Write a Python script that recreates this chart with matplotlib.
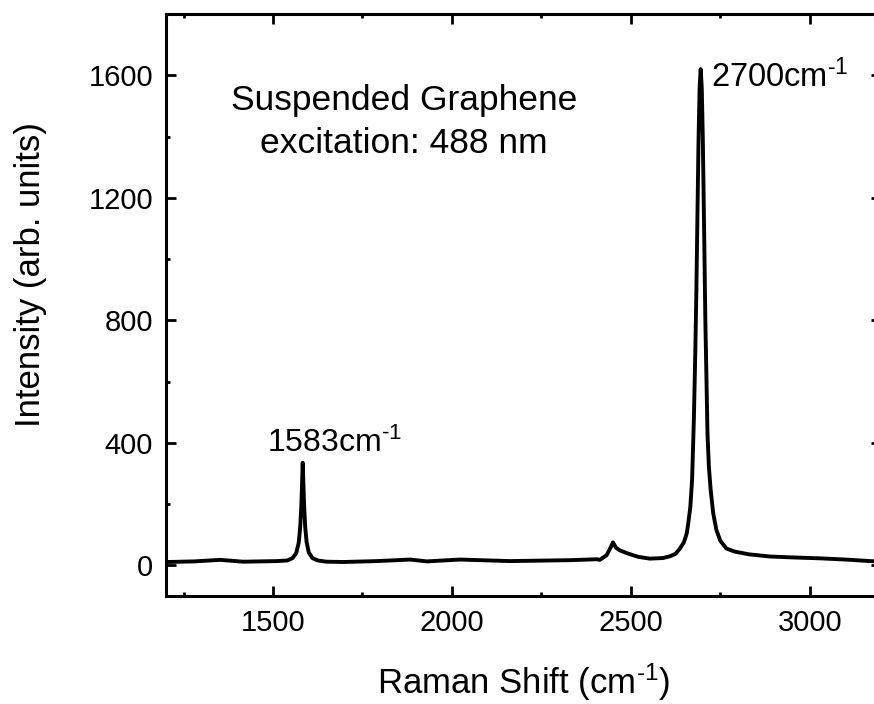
import matplotlib
matplotlib.use("Agg")
import matplotlib.pyplot as plt
from matplotlib.ticker import MultipleLocator

plt.rcParams['font.family'] = ['Liberation Sans', 'DejaVu Sans']
plt.rcParams['mathtext.fontset'] = 'custom'
plt.rcParams['mathtext.rm'] = 'Liberation Sans'
plt.rcParams['mathtext.it'] = 'Liberation Sans'

# spectrum (Raman shift in cm^-1, intensity in arb. units)
shift = [1200, 1204, 1280, 1352, 1417, 1511, 1540, 1555, 1565, 1572, 1576, 1579,
         1581, 1583, 1585, 1587, 1590, 1594, 1600, 1610, 1625, 1650, 1695, 1790,
         1883, 1930, 2022, 2162, 2330, 2405, 2413, 2432, 2442, 2450, 2458, 2469,
         2491, 2520, 2553, 2590, 2610, 2625, 2637, 2648, 2656, 2660, 2666, 2671,
         2676, 2680, 2683, 2686, 2689, 2692, 2695, 2698, 2701, 2705, 2708, 2710,
         2714, 2718, 2723, 2730, 2739, 2750, 2767, 2790, 2830, 2888, 2950, 3028,
         3100, 3168, 3200]
intensity = [11, 11, 13, 18, 12, 14, 16, 24, 40, 75, 125, 190,
             260, 335, 265, 195, 125, 75, 42, 24, 16, 12, 11, 14,
             19, 13, 19, 14, 17, 20, 18, 33, 55, 75, 58, 49,
             39, 28, 22, 24, 30, 38, 55, 75, 104, 135, 190, 280,
             480, 700, 900, 1150, 1390, 1560, 1620, 1560, 1390, 1061, 800, 680,
             430, 320, 245, 170, 115, 80, 55, 45, 36, 29, 26, 23,
             19, 14, 13]

x_ticks = [1500, 2000, 2500, 3000]
y_ticks = [0, 400, 800, 1200, 1600]

fig = plt.figure(figsize=(8.74, 7.04), dpi=100)
ax = fig.add_axes([0.1895, 0.1534, 0.819, 0.8267])

ax.plot(shift, intensity, color='black', lw=2.8, solid_joinstyle='round')

ax.set_xlim(1200, 3200)
ax.set_ylim(-100, 1800)
ax.set_xticks(x_ticks)
ax.set_yticks(y_ticks)
ax.xaxis.set_minor_locator(MultipleLocator(250))
ax.yaxis.set_minor_locator(MultipleLocator(200))

for s in ax.spines.values():
    s.set_linewidth(2.2)
ax.tick_params(which='both', direction='in', top=True, right=True, width=2.0)
ax.tick_params(which='major', length=7, labelsize=21, pad=9)
ax.tick_params(which='minor', length=3)

sup = '$^{\\text{-}1}$'
ax.set_xlabel('Raman Shift (cm' + sup + ')', fontsize=25)
ax.set_ylabel('Intensity (arb. units)', fontsize=25)
ax.xaxis.set_label_coords(0.5, -0.112)
ax.yaxis.set_label_coords(-0.166, 0.552)

ax.text(1866, 1519, 'Suspended Graphene', fontsize=25.5, ha='center', va='center')
ax.text(1866, 1378, 'excitation: 488 nm', fontsize=25.5, ha='center', va='center')
ax.text(2725, 1561, '2700cm' + sup, fontsize=23.5, ha='left', va='baseline')
ax.text(1484, 369, '1583cm' + sup, fontsize=23, ha='left', va='baseline')

fig.savefig('out.png', dpi=100)
